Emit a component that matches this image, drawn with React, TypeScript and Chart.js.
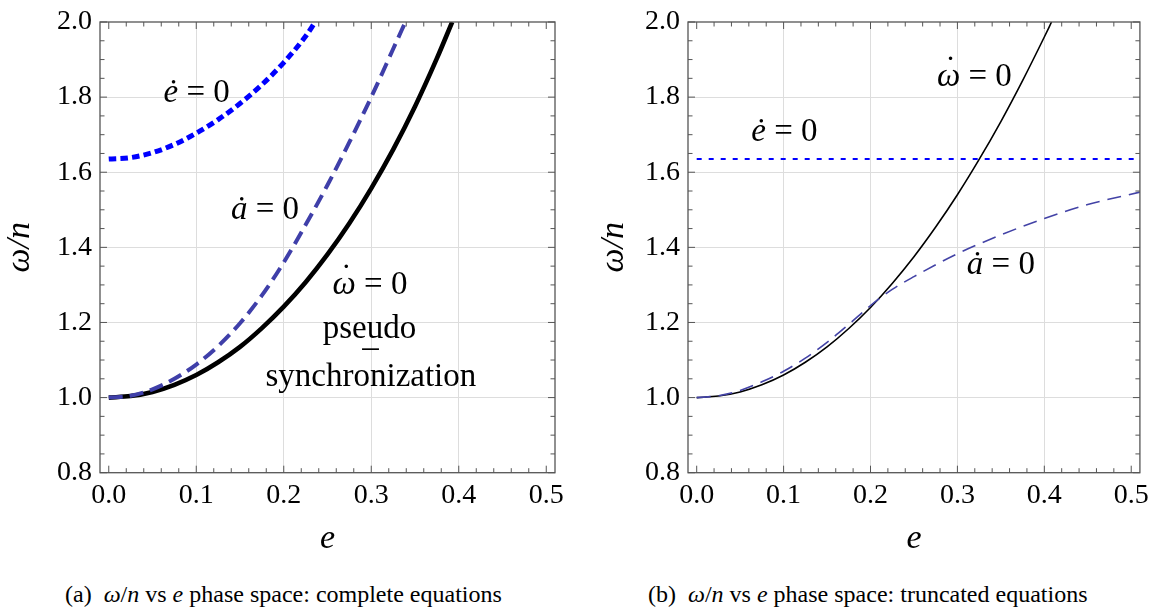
import React, { useEffect, useRef } from "react";
import { Chart, registerables } from "chart.js";

Chart.register(...registerables);

const SERIF = '"Liberation Serif"';

// ---- axes ----
const xTicks = [0, 0.1, 0.2, 0.3, 0.4, 0.5];
const yTicks = [0.8, 1.0, 1.2, 1.4, 1.6, 1.8, 2.0];
const xMinorTicks = [0.02, 0.04, 0.06, 0.08, 0.12, 0.14, 0.16, 0.18, 0.22, 0.24, 0.26, 0.28, 0.32, 0.34, 0.36, 0.38, 0.42, 0.44, 0.46, 0.48];
const yMinorTicks = [0.85, 0.9, 0.95, 1.05, 1.1, 1.15, 1.25, 1.3, 1.35, 1.45, 1.5, 1.55, 1.65, 1.7, 1.75, 1.85, 1.9, 1.95];
const xMin = -0.01;
const xMax = 0.51;
const yMin = 0.8;
const yMax = 2.0;

// ---- (a) complete equations ----
const aOmegaDotE = [0, 0.025, 0.05, 0.075, 0.1, 0.125, 0.15, 0.175, 0.2, 0.225, 0.25, 0.275, 0.3, 0.325, 0.35, 0.375, 0.3925];
const aOmegaDotV = [1.0, 1.004, 1.015, 1.034, 1.06, 1.094, 1.135, 1.185, 1.242, 1.307, 1.381, 1.464, 1.557, 1.66, 1.775, 1.903, 2.0];
const aADotE = [0, 0.025, 0.05, 0.075, 0.1, 0.125, 0.15, 0.175, 0.2, 0.225, 0.25, 0.275, 0.3, 0.325, 0.339];
const aADotV = [1.0, 1.005, 1.022, 1.05, 1.088, 1.137, 1.198, 1.272, 1.36, 1.46, 1.566, 1.68, 1.8, 1.928, 2.0];
const aEDotE = [0, 0.025, 0.05, 0.075, 0.1, 0.125, 0.15, 0.175, 0.2, 0.225, 0.236];
const aEDotV = [1.635, 1.639, 1.652, 1.674, 1.704, 1.74, 1.783, 1.833, 1.892, 1.962, 2.0];

// ---- (b) truncated equations ----
const bOmegaDotE = [0, 0.025, 0.05, 0.075, 0.1, 0.125, 0.15, 0.175, 0.2, 0.225, 0.25, 0.275, 0.3, 0.325, 0.35, 0.375, 0.4, 0.4083];
const bOmegaDotV = [1.0, 1.004, 1.015, 1.034, 1.06, 1.094, 1.135, 1.184, 1.24, 1.304, 1.375, 1.454, 1.54, 1.634, 1.735, 1.844, 1.96, 2.0];
const bADotE = [0, 0.025, 0.05, 0.075, 0.1, 0.125, 0.15, 0.175, 0.2, 0.225, 0.25, 0.3, 0.35, 0.4, 0.45, 0.51];
const bADotV = [1.0, 1.005, 1.019, 1.042, 1.07, 1.105, 1.147, 1.195, 1.245, 1.288, 1.322, 1.383, 1.433, 1.477, 1.514, 1.547];
const bEDotE = [0, 0.51];
const bEDotV = [1.635, 1.635];

// dot: draw a dot accent above the (italic) segment
type Seg = { t: string; it?: boolean; dot?: boolean };
type Label = { segs: Seg[]; e: number; v: number };

const aLabels: Label[] = [
  { segs: [{ t: "ė", it: true }, { t: " = 0" }], e: 0.1005, v: 1.787 },
  { segs: [{ t: "ȧ", it: true }, { t: " = 0" }], e: 0.1786, v: 1.475 },
  { segs: [{ t: "ω", it: true, dot: true }, { t: " = 0" }], e: 0.2986, v: 1.277 },
  { segs: [{ t: "pseudo" }], e: 0.298, v: 1.158 },
  { segs: [{ t: "–" }], e: 0.2991, v: 1.109 },
  { segs: [{ t: "synchronization" }], e: 0.2996, v: 1.031 },
];
const bLabels: Label[] = [
  { segs: [{ t: "ω", it: true, dot: true }, { t: " = 0" }], e: 0.3195, v: 1.83 },
  { segs: [{ t: "ė", it: true }, { t: " = 0" }], e: 0.1009, v: 1.682 },
  { segs: [{ t: "ȧ", it: true }, { t: " = 0" }], e: 0.35, v: 1.33 },
];

type Series = { e: number[]; v: number[]; color: string; width: number; dash: number[] };

type Panel = {
  series: Series[];
  labels: Label[];
  yAxisWidth: number;
  padRight: number;
  yTitlePad: number;
};

const CANVAS_W = 579;
const CANVAS_H = 560;
const PLOT_TOP = 17.3;
const PLOT_BOTTOM = 472.7;

const panelA: Panel = {
  series: [
    { e: aEDotE, v: aEDotV, color: "#0000ff", width: 5, dash: [7.5, 4.2] },
    { e: aADotE, v: aADotV, color: "#3f3fa9", width: 4, dash: [14, 7] },
    { e: aOmegaDotE, v: aOmegaDotV, color: "#000000", width: 4.6, dash: [] },
  ],
  labels: aLabels,
  yAxisWidth: 100,
  padRight: CANVAS_W - 555,
  yTitlePad: 3,
};

const panelB: Panel = {
  series: [
    { e: bEDotE, v: bEDotV, color: "#0000ff", width: 2, dash: [5, 7] },
    { e: bADotE, v: bADotV, color: "#4343a6", width: 1.6, dash: [14, 8] },
    { e: bOmegaDotE, v: bOmegaDotV, color: "#000000", width: 1.6, dash: [] },
  ],
  labels: bLabels,
  yAxisWidth: 109,
  padRight: CANVAS_W - 564.5,
  yTitlePad: 18,
};

function drawSegs(ctx: CanvasRenderingContext2D, segs: Seg[], cx: number, by: number, size: number) {
  const fonts = segs.map((s) => `${s.it ? "italic " : ""}${size}px ${SERIF}`);
  const widths = segs.map((s, i) => {
    ctx.font = fonts[i];
    return ctx.measureText(s.t).width;
  });
  const total = widths.reduce((a, b) => a + b, 0);
  let x = cx - total / 2;
  ctx.textBaseline = "alphabetic";
  ctx.fillStyle = "#000";
  segs.forEach((s, i) => {
    ctx.font = fonts[i];
    ctx.textAlign = "left";
    ctx.fillText(s.t, x, by);
    if (s.dot) {
      ctx.font = `${size}px ${SERIF}`;
      ctx.textAlign = "center";
      ctx.fillText("\u02D9", x + widths[i] / 2 + size * 0.06, by - size * 0.2);
    }
    x += widths[i];
  });
}

function makeChart(canvas: HTMLCanvasElement, p: Panel) {
  const framePlugin = {
    id: "frameTicks",
    afterDatasetsDraw(chart: any) {
      const { ctx, chartArea } = chart;
      const xs = chart.scales.x;
      const ys = chart.scales.y;
      const { left, right, top, bottom } = chartArea;
      ctx.save();
      ctx.strokeStyle = "#555555";
      ctx.lineWidth = 1;
      const tick = (x1: number, y1: number, x2: number, y2: number) => {
        ctx.beginPath();
        ctx.moveTo(x1, y1);
        ctx.lineTo(x2, y2);
        ctx.stroke();
      };
      const MAJ = 7;
      const MIN = 4.5;
      xTicks.forEach((v) => {
        const x = xs.getPixelForValue(v);
        tick(x, bottom, x, bottom - MAJ);
        tick(x, top, x, top + MAJ);
      });
      xMinorTicks.forEach((v) => {
        const x = xs.getPixelForValue(v);
        tick(x, bottom, x, bottom - MIN);
        tick(x, top, x, top + MIN);
      });
      yTicks.forEach((v) => {
        const y = ys.getPixelForValue(v);
        tick(left, y, left + MAJ, y);
        tick(right, y, right - MAJ, y);
      });
      yMinorTicks.forEach((v) => {
        const y = ys.getPixelForValue(v);
        tick(left, y, left + MIN, y);
        tick(right, y, right - MIN, y);
      });
      ctx.lineWidth = 1.3;
      ctx.strokeRect(left, top, right - left, bottom - top);
      ctx.restore();
    },
    afterDraw(chart: any) {
      const { ctx } = chart;
      const xs = chart.scales.x;
      const ys = chart.scales.y;
      ctx.save();
      p.labels.forEach((l) => {
        drawSegs(ctx, l.segs, xs.getPixelForValue(l.e), ys.getPixelForValue(l.v), 33);
      });
      ctx.restore();
    },
  };

  const gridColor = (edgeVals: number[]) => (c: any) => {
    const v = c.tick ? c.tick.value : NaN;
    return edgeVals.some((ev) => Math.abs(ev - v) < 1e-9) ? "rgba(0,0,0,0)" : "#dddddd";
  };

  return new Chart(canvas, {
    type: "line",
    data: {
      datasets: p.series.map((s) => ({
        data: s.e.map((e, i) => ({ x: e, y: s.v[i] })),
        borderColor: s.color,
        borderWidth: s.width,
        borderDash: s.dash,
        borderCapStyle: "butt",
        pointRadius: 0,
        fill: false,
        cubicInterpolationMode: "monotone",
        clip: 0,
      })),
    },
    options: {
      animation: false,
      responsive: false,
      events: [],
      layout: { padding: { top: PLOT_TOP, right: p.padRight, bottom: 0, left: 0 } },
      plugins: { legend: { display: false }, tooltip: { enabled: false } },
      scales: {
        x: {
          type: "linear",
          min: xMin,
          max: xMax,
          afterBuildTicks: (s: any) => {
            s.ticks = xTicks.map((v) => ({ value: v }));
          },
          afterFit: (s: any) => {
            s.height = CANVAS_H - PLOT_BOTTOM;
          },
          ticks: {
            autoSkip: false,
            maxRotation: 0,
            padding: 9,
            color: "#000",
            font: { family: SERIF, size: 28, lineHeight: 1 },
            callback: (v: any) => Number(v).toFixed(1),
          },
          grid: { color: gridColor([0, 0.5]), drawTicks: false, lineWidth: 1 },
          border: { display: false },
          title: {
            display: true,
            text: "e",
            color: "#000",
            font: { family: SERIF, size: 34, style: "italic", lineHeight: 1 },
            padding: { top: 0, bottom: 4 },
          },
        },
        y: {
          type: "linear",
          min: yMin,
          max: yMax,
          afterBuildTicks: (s: any) => {
            s.ticks = yTicks.map((v) => ({ value: v }));
          },
          afterFit: (s: any) => {
            s.width = p.yAxisWidth;
          },
          ticks: {
            autoSkip: false,
            padding: 8,
            color: "#000",
            font: { family: SERIF, size: 28, lineHeight: 1 },
            callback: (v: any) => Number(v).toFixed(1),
          },
          grid: { color: gridColor([0.8, 2.0]), drawTicks: false, lineWidth: 1 },
          border: { display: false },
          title: {
            display: true,
            text: "ω/n",
            color: "#000",
            font: { family: SERIF, size: 34, style: "italic", lineHeight: 1 },
            padding: { top: p.yTitlePad, bottom: 0 },
          },
        },
      },
    } as any,
    plugins: [framePlugin],
  });
}

function PanelChart({ panel, left }: { panel: Panel; left: number }) {
  const ref = useRef<HTMLCanvasElement | null>(null);
  useEffect(() => {
    if (!ref.current) return;
    const chart = makeChart(ref.current, panel);
    return () => chart.destroy();
  }, [panel]);
  return (
    <canvas
      ref={ref}
      width={CANVAS_W}
      height={CANVAS_H}
      style={{ position: "absolute", left, top: 0, width: CANVAS_W, height: CANVAS_H }}
    />
  );
}

const captionStyle: React.CSSProperties = {
  position: "absolute",
  top: 581,
  fontFamily: SERIF,
  fontSize: 24,
  lineHeight: "26px",
  whiteSpace: "nowrap",
  color: "#000",
};

export default function App() {
  return (
    <div
      style={{
        position: "fixed",
        left: 0,
        top: 0,
        width: 1158,
        height: 610,
        background: "#fff",
        overflow: "hidden",
      }}
    >
      <PanelChart panel={panelA} left={0} />
      <PanelChart panel={panelB} left={CANVAS_W} />
      <div style={{ ...captionStyle, left: 65 }}>
        (a)&nbsp;&nbsp;<i>ω</i>/<i>n</i> vs <i>e</i> phase space: complete equations
      </div>
      <div style={{ ...captionStyle, left: 648 }}>
        (b)&nbsp;&nbsp;<i>ω</i>/<i>n</i> vs <i>e</i> phase space: truncated equations
      </div>
    </div>
  );
}
